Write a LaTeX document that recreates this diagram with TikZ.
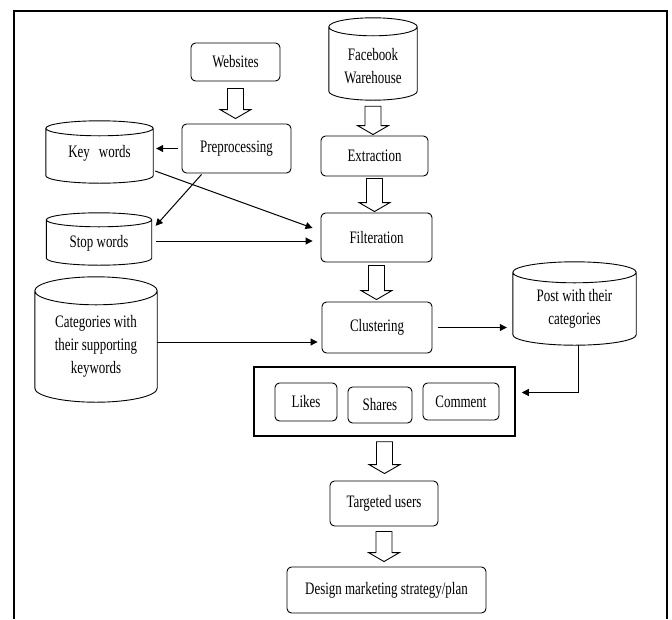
\documentclass[tikz,border=0pt]{standalone}
\usepackage{fontspec}
\setmainfont{Liberation Serif}[FakeStretch=0.74]
\usetikzlibrary{arrows.meta,calc}

% cylinder drawn round a named (invisible) node: #1 node, #2 y radius of the ellipses
\newcommand{\cylbody}[2]{%
  \draw[line width=0.9pt] let \p1=(#1.north west), \p2=(#1.south east), \n1={(\x2-\x1)/2} in
    (\x1,\y1-#2) -- (\x1,\y2+#2)
    arc[start angle=180,end angle=360,x radius=\n1,y radius=#2]
    -- (\x2,\y1-#2)
    arc[start angle=0,end angle=180,x radius=\n1,y radius=#2]
    arc[start angle=180,end angle=360,x radius=\n1,y radius=#2];}

% hollow block arrow from node #1 down to node #2, #3 top gap, #4 bottom gap
\newcommand{\blockarrow}[4]{%
  \draw[line width=0.9pt, line join=miter] let \p1=(#1.south), \p2=(#2.north) in
    (\x1-8pt,\y1-#3) -- (\x1-8pt,\y2+#4+9pt) -- (\x1-15.5pt,\y2+#4+9pt)
    -- (\x1,\y2+#4) -- (\x1+15.5pt,\y2+#4+9pt) -- (\x1+8pt,\y2+#4+9pt)
    -- (\x1+8pt,\y1-#3) -- cycle;}

\begin{document}
\begin{tikzpicture}[x=1pt,y=-1pt,
  lbl/.style={font=\fontsize{17.5pt}{23pt}\selectfont, align=center},
  box/.style={lbl, draw, rounded corners=4.5pt, line width=0.9pt, inner sep=0pt},
  cylnode/.style={draw=none, inner sep=0pt},
  txt/.style={lbl, inner sep=0pt},
  conn/.style={line width=1pt, -{Triangle[length=7pt,width=7pt]}}
]
\useasboundingbox (0,0) rectangle (672,619);

% outer frame, open at the bottom
\draw[line width=2.2pt, line join=miter] (14,619) -- (14,11) -- (667,11) -- (667,619);

% rounded boxes
\node[box, minimum width=89pt, minimum height=38pt] (web) at (235.5,62) {Websites};
\node[box, minimum width=109pt, minimum height=49pt] (pre) at (236.5,148.5) {Preprocessing};
\node[box, minimum width=107pt, minimum height=40pt] (ext) at (374.5,156) {Extraction};
\node[box, minimum width=111pt, minimum height=49pt] (filt) at (376.5,237.5) {Filteration};
\node[box, minimum width=110pt, minimum height=51pt] (clu) at (377,327.5) {Clustering};
\node[draw, line width=1.5pt, minimum width=261pt, minimum height=69pt, inner sep=0pt] (outer) at (384.5,401.5) {};
\node[box, minimum width=62pt, minimum height=38pt] (likes) at (306,402) {Likes};
\node[box, minimum width=64pt, minimum height=36pt] (shares) at (380,405) {Shares};
\node[box, minimum width=76pt, minimum height=37pt] (comment) at (461,401.5) {Comment};
\node[box, minimum width=108pt, minimum height=45pt] (targ) at (384,503.5) {Targeted users};
\node[box, minimum width=199pt, minimum height=46pt] (design) at (386.5,590) {Design marketing strategy/plan};

% cylinders
\node[cylnode, minimum width=88pt, minimum height=82pt] (fb) at (373,59) {};
\cylbody{fb}{9pt}
\node[txt] (fbt) at (373,66.5) {Facebook\\Warehouse};

\node[cylnode, minimum width=107pt, minimum height=62pt] (kw) at (99.5,152) {};
\cylbody{kw}{7.5pt}
\node[txt] (kwt) at (99.5,153) {Key\hspace{9pt}words};

\node[cylnode, minimum width=105pt, minimum height=52pt] (sw) at (99,239) {};
\cylbody{sw}{7pt}
\node[txt] (swt) at (99,243) {Stop words};

\node[cylnode, minimum width=122pt, minimum height=125pt] (cat) at (96,339.5) {};
\cylbody{cat}{14pt}
\node[txt] (catt) at (96,346) {Categories with\\their supporting\\keywords};

\node[cylnode, minimum width=123pt, minimum height=83pt] (post) at (574.5,303.5) {};
\cylbody{post}{10.5pt}
\node[txt] (postt) at (574.5,309) {Post with their\\categories};

% hollow block arrows
\blockarrow{web}{pre}{7pt}{5pt}
\blockarrow{fb}{ext}{6pt}{1pt}
\blockarrow{ext}{filt}{2pt}{1pt}
\blockarrow{filt}{clu}{3pt}{2pt}
\blockarrow{outer}{targ}{5pt}{7pt}
\blockarrow{targ}{design}{5pt}{5pt}

% connectors
\draw[conn, shorten <=4pt, shorten >=3pt] (pre.west) -- (kw.east |- pre.west);
\draw[conn] ([xshift=2pt,yshift=-19pt]kw.east) -- ([xshift=-8pt,yshift=9.5pt]filt.west);
\draw[conn] ([xshift=20pt,yshift=-1pt]pre.south west) -- ([xshift=4pt,yshift=-13pt]sw.north east);
\draw[conn, shorten <=4pt, shorten >=8pt] ([yshift=-2pt]sw.east) -- ([yshift=-2pt]sw.east -| filt.west);
\draw[conn, shorten >=4pt] ([yshift=-2.5pt]cat.east) -- ([yshift=-2.5pt]cat.east -| clu.west);
\draw[conn, shorten <=6pt, shorten >=6pt] (clu.east) -- (clu.east -| post.west);
\draw[conn, shorten >=6pt] ([xshift=3.5pt]post.south) |- ([yshift=9pt]outer.east);
\end{tikzpicture}
\end{document}
